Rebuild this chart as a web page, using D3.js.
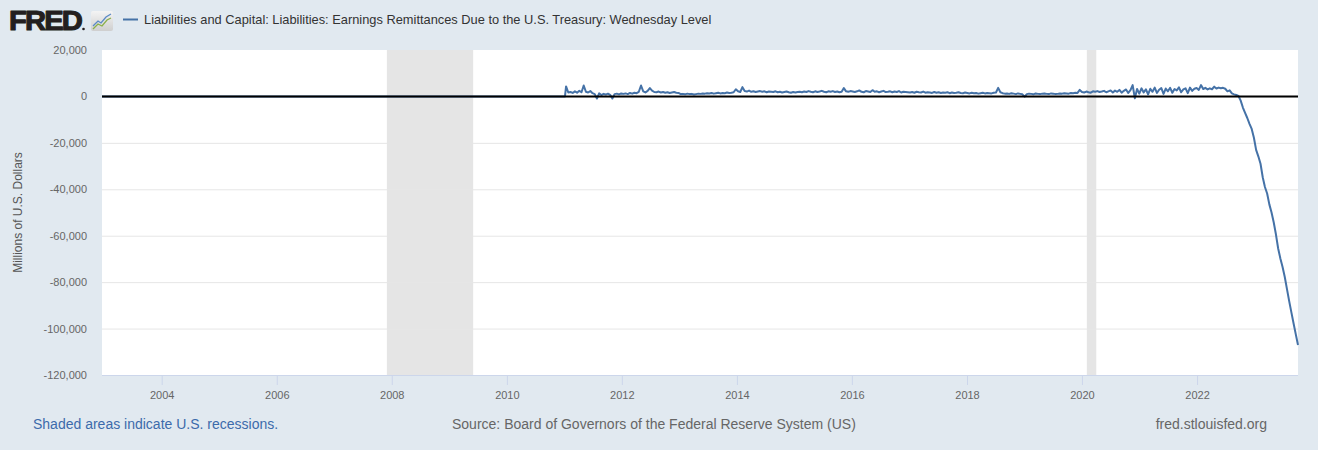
<!DOCTYPE html>
<html><head><meta charset="utf-8">
<script src="https://cdn.jsdelivr.net/npm/d3@7"></script>
<style>
html,body{margin:0;padding:0;background:#e1e9f0;}
svg{display:block;font-family:"Liberation Sans",Arial,Helvetica,sans-serif;}
</style>
</head><body>
<svg id="chart" width="1318" height="450"></svg>
<script>
// ---------- DATA ----------
const seriesTitle = "Liabilities and Capital: Liabilities: Earnings Remittances Due to the U.S. Treasury: Wednesday Level";
const yAxisTitle = "Millions of U.S. Dollars";
const yTickValues = [20000, 0, -20000, -40000, -60000, -80000, -100000, -120000];
const xTickYears = [2004, 2006, 2008, 2010, 2012, 2014, 2016, 2018, 2020, 2022];
const recessionStarts = ["2007-12-01", "2020-02-01"];
const recessionEnds = ["2009-06-01", "2020-04-01"];
const sourceText = "Source: Board of Governors of the Federal Reserve System (US)";
const noteText = "Shaded areas indicate U.S. recessions.";
const siteText = "fred.stlouisfed.org";

// Wednesday levels 2002-12-18 .. 2011-01-05: all zero
const zeroPeriodDates = ["2002-12-18", "2011-01-05"];
const zeroPeriodValues = [0, 0];

// Every other Wednesday from 2011-01-12 (millions of dollars)
const biweeklyStart = "2011-01-12";
const values2011 = [4300, 1700, 1900, 1500, 2200, 1600, 2400, 1800, 4700, 2000, 1700, 2300, 1400, 1000, -900, 1300, 600, 1100, 800, 1200, 700, -900, 1000, 1200, 900, 1300];
const values2012 = [1100, 1300, 1000, 1500, 1200, 1600, 1400, 2000, 4700, 2200, 1700, 2400, 3600, 2500, 1900, 1800, 2100, 1700, 1900, 1600, 1800, 1500, 1700, 1900, 1600, 1500];
const values2013 = [1000, 1100, 900, 1200, 1000, 1100, 800, 1000, 1200, 1100, 1300, 1200, 1400, 1300, 1500, 1200, 1400, 1600, 1300, 1500, 1400, 1700, 1500, 1600, 1800, 3100];
const values2014 = [2200, 1900, 4000, 2300, 2100, 2500, 2000, 2200, 1900, 2100, 2300, 2000, 2200, 1800, 2100, 2000, 1900, 2200, 1800, 2000, 1700, 1900, 2100, 1800, 1600, 1900];
const values2015 = [1700, 1900, 2000, 1800, 2100, 1900, 2300, 2000, 1800, 2200, 1900, 2100, 2400, 2000, 1800, 2200, 2000, 2300, 1900, 2100, 1800, 2000, 3600, 2200, 2000, 2300];
const values2016 = [2100, 1900, 2200, 2600, 2000, 1800, 2300, 2100, 1900, 2700, 2000, 2200, 1800, 2100, 2400, 1900, 2000, 2200, 1800, 2100, 1900, 2300, 1700, 2000, 1900, 1800];
const values2017 = [1700, 1900, 1600, 2000, 1800, 1700, 2100, 1600, 1800, 1700, 1500, 1900, 1600, 1800, 1500, 1700, 1600, 1800, 1400, 1700, 1500, 1600, 1800, 1500, 1400, 1700];
const values2018 = [1500, 1300, 1600, 1400, 1500, 1200, 1400, 1600, 1300, 1500, 1400, 1300, 1600, 1700, 3700, 1800, 1400, 1200, 1300, 1100, 1400, 1200, 1000, 1300, 1100, 900];
const values2019 = [-100, 1000, 1200, 1100, 900, 1300, 1100, 1000, 1200, 1300, 1100, 1000, 1300, 1200, 1000, 1100, 1300, 1200, 1400, 1300, 1200, 1500, 1400, 1600, 1500, 2800];
const values2020 = [1900, 1700, 2100, 1800, 1600, 2200, 2000, 2300, 1900, 2100, 2400, 1800, 2200, 2600, 1700, 2500, 2000, 2800, 1600, 2400, 3000, 1500, 2700, 4900, -800, 3200];
const values2021 = [1200, 3500, 1700, 3100, 900, 3300, 2000, 3800, 1500, 2900, 3600, 1100, 3400, 2200, 3700, 1600, 3200, 2600, 3900, 1800, 3000, 3500, 1400, 3800, 2400, 3300];
const values2022 = [3600, 2800, 4900, 3200, 3700, 3000, 3500, 3100, 4200, 3400, 3800, 3500, 3700, 3300, 2200, 2600, 1300, 900, 600, 200, -1800, -4800, -7100, -9300, -11800, -14000];
const values2023 = [-17800, -23000, -25800, -29000, -34800, -39000, -41800, -46500, -50000, -54300, -59500, -65500, -69800, -73500, -77800, -83000, -88200, -93000, -97800, -102500, -107100];

// ---------- BUILD ----------
const parse = d3.utcParse("%Y-%m-%d");
const biweeklyValues = [].concat(values2011, values2012, values2013, values2014, values2015, values2016,
  values2017, values2018, values2019, values2020, values2021, values2022, values2023);
const data = zeroPeriodDates.map((d, i) => ({date: parse(d), value: zeroPeriodValues[i]}))
  .concat(biweeklyValues.map((v, i) => ({date: d3.utcDay.offset(parse(biweeklyStart), 14 * i), value: v})));

const W = 1318, H = 450;
const plot = {left: 102, right: 1298, top: 50, bottom: 375};
const svg = d3.select("#chart");

const x = d3.scaleUtc().domain([data[0].date, data[data.length - 1].date]).range([plot.left, plot.right]);
const y = d3.scaleLinear().domain([-120000, 20000]).range([plot.bottom, plot.top]);
const fmt = d3.formatLocale({decimal: ".", thousands: ",", grouping: [3], currency: ["$", ""], minus: "-"}).format(",");

// plot background
svg.append("rect").attr("x", plot.left).attr("y", plot.top)
  .attr("width", plot.right - plot.left).attr("height", plot.bottom - plot.top).attr("fill", "#ffffff");

// recessions
svg.append("g").selectAll("rect").data(recessionStarts.map((s, i) => [parse(s), parse(recessionEnds[i])]))
  .join("rect")
  .attr("x", d => x(d[0])).attr("width", d => x(d[1]) - x(d[0]))
  .attr("y", plot.top).attr("height", plot.bottom - plot.top)
  .attr("fill", "#e5e5e5");

// y gridlines + labels
const yAxis = d3.axisLeft(y).tickValues(yTickValues).tickFormat(fmt)
  .tickSize(-(plot.right - plot.left)).tickPadding(15);
const gy = svg.append("g").attr("transform", `translate(${plot.left},0)`).call(yAxis);
gy.select(".domain").remove();
gy.selectAll(".tick line").attr("stroke", "#e6e6e6").attr("stroke-width", 1)
  .attr("display", d => (d === 20000 || d === -120000) ? "none" : null);
gy.selectAll(".tick text").attr("fill", "#666666").attr("font-size", "11px")
  .attr("font-family", "\"Liberation Sans\",Arial,sans-serif");

// x axis
const xAxis = d3.axisBottom(x).tickValues(xTickYears.map(yr => new Date(Date.UTC(yr, 0, 1))))
  .tickFormat(d3.utcFormat("%Y")).tickSize(10).tickPadding(6);
const gx = svg.append("g").attr("transform", `translate(0,${plot.bottom})`).call(xAxis);
gx.select(".domain").attr("stroke", "#ccd6eb").attr("d", `M${plot.left},0.5H${plot.right}`);
gx.selectAll(".tick line").attr("stroke", "#ccd6eb");
gx.selectAll(".tick text").attr("fill", "#666666").attr("font-size", "11px")
  .attr("font-family", "\"Liberation Sans\",Arial,sans-serif");

// series line
const line = d3.line().x(d => x(d.date)).y(d => y(d.value));
svg.append("path").datum(data).attr("d", line)
  .attr("fill", "none").attr("stroke", "#4572a7").attr("stroke-width", 2)
  .attr("stroke-linejoin", "round");

// zero line
svg.append("line").attr("x1", plot.left).attr("x2", plot.right)
  .attr("y1", y(0)).attr("y2", y(0)).attr("stroke", "#000000").attr("stroke-width", 2);

// y axis title
svg.append("text").attr("transform", `translate(22,${(plot.top + plot.bottom) / 2}) rotate(-90)`)
  .attr("text-anchor", "middle").attr("font-size", "12px").attr("fill", "#555555").text(yAxisTitle);

// FRED logo
const logo = svg.append("text").attr("x", 9).attr("y", 30).attr("font-size", "28px").attr("font-weight", "bold")
  .attr("letter-spacing", "-1.8").attr("fill", "#231f20").attr("stroke", "#231f20").attr("stroke-width", 1.1)
  .attr("stroke-linejoin", "round").text("FRED");
const lw = logo.node().getComputedTextLength();
logo.attr("textLength", 72).attr("lengthAdjust", "spacingAndGlyphs");
svg.append("circle").attr("cx", 83.5).attr("cy", 29).attr("r", 1.3).attr("fill", "#231f20");
const icon = svg.append("g").attr("transform", "translate(91,11)");
const grad = svg.append("defs").append("linearGradient").attr("id", "ig").attr("x1", 0).attr("y1", 0).attr("x2", 0).attr("y2", 1);
grad.append("stop").attr("offset", 0).attr("stop-color", "#f4f4f4");
grad.append("stop").attr("offset", 1).attr("stop-color", "#cfcfcf");
icon.append("rect").attr("width", 22).attr("height", 20).attr("rx", 2).attr("fill", "url(#ig)");
icon.append("path").attr("d", "M2,15 L7,10 L10,12 L15,6 L20,3").attr("fill", "none").attr("stroke", "#5b8ac6").attr("stroke-width", 1.3);
icon.append("path").attr("d", "M2,18 L7,13 L11,15 L16,9 L20,7").attr("fill", "none").attr("stroke", "#8bb04a").attr("stroke-width", 1.3);

// legend
svg.append("line").attr("x1", 123).attr("x2", 138).attr("y1", 19.5).attr("y2", 19.5)
  .attr("stroke", "#4572a7").attr("stroke-width", 2);
const lt = svg.append("text").attr("x", 144).attr("y", 24).attr("font-size", "12px")
  .attr("fill", "#333333").text(seriesTitle);
const targetW = 568;
const w0 = lt.node().getComputedTextLength();
lt.attr("font-size", (12 * targetW / w0).toFixed(2) + "px");

// footer
svg.append("text").attr("x", 33).attr("y", 429).attr("font-size", "14px").attr("fill", "#3c6bab").text(noteText);
svg.append("text").attr("x", 452).attr("y", 429).attr("font-size", "14px").attr("fill", "#666666").text(sourceText);
svg.append("text").attr("x", 1267).attr("y", 429).attr("text-anchor", "end").attr("font-size", "14px").attr("fill", "#666666").text(siteText);
</script>
</body></html>
